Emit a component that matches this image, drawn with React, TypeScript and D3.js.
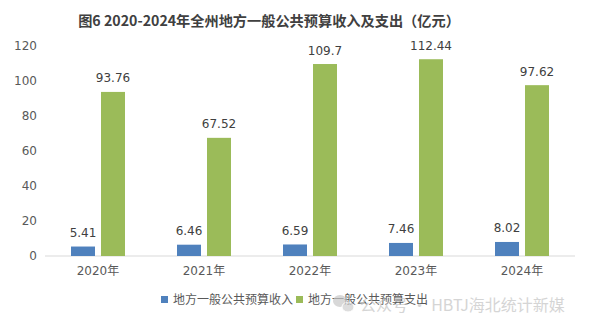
import React from "react";
import * as d3 from "d3";

const categories = ["2020年", "2021年", "2022年", "2023年", "2024年"];
const seriesNames = ["地方一般公共预算收入", "地方一般公共预算支出"];
const income = [5.41, 6.46, 6.59, 7.46, 8.02];
const expenditure = [93.76, 67.52, 109.7, 112.44, 97.62];
const incomeLabels = ["5.41", "6.46", "6.59", "7.46", "8.02"];
const expenditureLabels = ["93.76", "67.52", "109.7", "112.44", "97.62"];
const yTicks = [0, 20, 40, 60, 80, 100, 120];
const title = "图6 2020-2024年全州地方一般公共预算收入及支出（亿元）";
const watermark = "公众号 · HBTJ海北统计新媒";

const colors = ["#4f81bd", "#9bbb59"];
const W = 590;
const H = 328;
const numFont = "'DejaVu Sans', 'Noto Sans CJK SC', sans-serif";
const cjkFont = "'Noto Sans CJK SC', sans-serif";

export default function App() {
  const x0 = d3.scaleBand<string>().domain(categories).range([45, 575]).padding(0);
  const y = d3.scaleLinear().domain([0, 120]).range([256, 46]);
  const x1 = d3.scaleBand<number>().domain([0, 1]).range([-27, 27]).paddingInner(0.2);
  const series = [income, expenditure];
  const labels = [incomeLabels, expenditureLabels];

  return (
    <svg width={W} height={H} style={{ position: "absolute", left: 0, top: 0, background: "#fff" }}>
      <rect x={0} y={0} width={W} height={H} fill="#fff" />
      <text x={269} y={26} textAnchor="middle" fontFamily={cjkFont} fontWeight="bold" fontSize={14.2} fill="#404040">
        {title}
      </text>
      {yTicks.map((t) => (
        <text key={t} x={37} y={y(t)} dy="0.36em" textAnchor="end" fontFamily={numFont} fontSize={12} fill="#595959">
          {t}
        </text>
      ))}
      <line x1={45} x2={575} y1={y(0)} y2={y(0)} stroke="#d9d9d9" strokeWidth={1} />
      {categories.map((c, i) => {
        const cx = (x0(c) as number) + x0.bandwidth() / 2;
        return (
          <g key={c}>
            {series.map((s, j) => {
              const bx = cx + (x1(j) as number);
              return (
                <g key={j}>
                  <rect x={bx} y={y(s[i])} width={x1.bandwidth()} height={y(0) - y(s[i])} fill={colors[j]} />
                  <text
                    x={bx + x1.bandwidth() / 2}
                    y={y(s[i]) - 9.5}
                    textAnchor="middle"
                    fontFamily={numFont}
                    fontSize={12}
                    fill="#404040"
                  >
                    {labels[j][i]}
                  </text>
                </g>
              );
            })}
            <text x={cx} y={275} textAnchor="middle" fontFamily={numFont} fontSize={12} fill="#595959">
              {c}
            </text>
          </g>
        );
      })}
      {seriesNames.map((n, j) => {
        const lx = j === 0 ? 161 : 296;
        return (
          <g key={n}>
            <rect x={lx} y={296} width={7} height={7} fill={colors[j]} />
            <text x={lx + 12} y={304} fontFamily={cjkFont} fontSize={12} fill="#595959">
              {n}
            </text>
          </g>
        );
      })}
      <g opacity={0.7}>
        <ellipse cx={340} cy={301} rx={7} ry={6} fill="#c8c8c8" />
        <ellipse cx={348} cy={307} rx={6} ry={5} fill="#d0d0d0" stroke="#fff" strokeWidth={1} />
        <text x={360} y={311} fontFamily={cjkFont} fontSize={16} fill="#c4c4c4">
          {watermark}
        </text>
      </g>
    </svg>
  );
}
